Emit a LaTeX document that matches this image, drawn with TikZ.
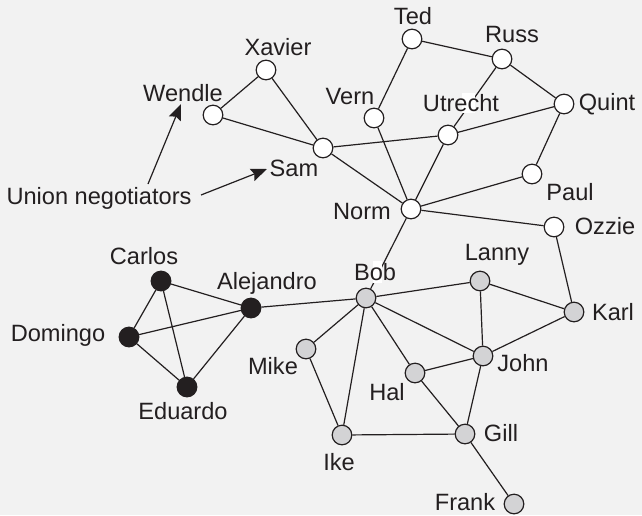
\documentclass[tikz,border=0pt]{standalone}
\usepackage{fontspec}
\setmainfont{Liberation Sans}
\usetikzlibrary{arrows.meta}
\definecolor{bg}{HTML}{F2F2F2}
\definecolor{ink}{HTML}{231F20}
\definecolor{grayfill}{HTML}{D3D3D5}
\tikzset{
  vtx/.style={circle,draw=ink,line width=0.6pt,minimum size=9.8pt,inner sep=0pt},
  wnode/.style={vtx,fill=white},
  gnode/.style={vtx,fill=grayfill},
  bnode/.style={vtx,fill=ink},
  lbl/.style={inner sep=0pt,text=ink,font=\fontsize{11.8}{14}\selectfont},
  edge/.style={draw=ink,line width=0.6pt},
  pointer/.style={draw=ink,line width=0.6pt,-{Stealth[length=8pt,width=6.5pt,inset=1.2pt]}}
}
\begin{document}
\begin{tikzpicture}[x=0.5pt,y=-0.5pt]
\fill[bg] (0,0) rectangle (642,515);
\useasboundingbox (0,0) rectangle (642,515);
% vertices
\node[wnode] (xavier) at (266,70) {};
\node[wnode] (wendle) at (213,115) {};
\node[wnode] (sam) at (323,148) {};
\node[wnode] (ted) at (412,39) {};
\node[wnode] (russ) at (502,59) {};
\node[wnode] (quint) at (564,104) {};
\node[wnode] (vern) at (374,118) {};
\node[wnode] (utrecht) at (448,135) {};
\node[wnode] (norm) at (411,209) {};
\node[wnode] (paul) at (532,174) {};
\node[wnode] (ozzie) at (554,227) {};
\node[bnode] (carlos) at (161,281) {};
\node[bnode] (alejandro) at (251,308) {};
\node[bnode] (domingo) at (129,337) {};
\node[bnode] (eduardo) at (187,387) {};
\node[gnode] (bob) at (366,298) {};
\node[gnode] (lanny) at (480,281) {};
\node[gnode] (karl) at (574,312) {};
\node[gnode] (john) at (483,356) {};
\node[gnode] (hal) at (415,373) {};
\node[gnode] (mike) at (306,349) {};
\node[gnode] (ike) at (342,435) {};
\node[gnode] (gill) at (465,434) {};
\node[gnode] (frank) at (514,504) {};
% edges
\path[edge]
  (wendle) -- (xavier)
  (wendle) -- (sam)
  (xavier) -- (sam)
  (sam) -- (utrecht)
  (utrecht) -- (quint)
  (sam) -- (norm)
  (ted) -- (vern)
  (ted) -- (russ)
  (vern) -- (norm)
  (russ) -- (utrecht)
  (russ) -- (quint)
  (utrecht) -- (norm)
  (quint) -- (paul)
  (norm) -- (paul)
  (norm) -- (ozzie)
  (norm) -- (bob)
  (ozzie) -- (karl)
  (carlos) -- (alejandro)
  (carlos) -- (domingo)
  (carlos) -- (eduardo)
  (domingo) -- (alejandro)
  (domingo) -- (eduardo)
  (eduardo) -- (alejandro)
  (alejandro) -- (bob)
  (bob) -- (lanny)
  (bob) -- (john)
  (bob) -- (hal)
  (bob) -- (ike)
  (bob) -- (mike)
  (mike) -- (ike)
  (lanny) -- (john)
  (lanny) -- (karl)
  (karl) -- (john)
  (john) -- (hal)
  (john) -- (gill)
  (hal) -- (gill)
  (ike) -- (gill)
  (gill) -- (frank);
% white patches behind labels crossed by lines
\fill[white] (462,93) rectangle (475,113);
\fill[white] (373,261) rectangle (382,283);
% labels
\node[lbl] (lxavier) at (278,47) {Xavier};
\node[lbl] (lwendle) at (183,93) {Wendle};
\node[lbl] (lsam) at (294,168) {Sam};
\node[lbl] (lted) at (413,16) {Ted};
\node[lbl] (lruss) at (512,34) {Russ};
\node[lbl] (lquint) at (607,104) {Quint};
\node[lbl] (lvern) at (350,96) {Vern};
\node[lbl] (lutrecht) at (461,103) {Utrecht};
\node[lbl] (lnorm) at (362,211) {Norm};
\node[lbl] (lpaul) at (570,192) {Paul};
\node[lbl] (lozzie) at (605,226) {Ozzie};
\node[lbl] (lcarlos) at (144,256) {Carlos};
\node[lbl] (lalejandro) at (267,283) {Alejandro};
\node[lbl] (ldomingo) at (58,335) {Domingo};
\node[lbl] (leduardo) at (183,411) {Eduardo};
\node[lbl] (lbob) at (375,272) {Bob};
\node[lbl] (llanny) at (497,255) {Lanny};
\node[lbl] (lkarl) at (613,312) {Karl};
\node[lbl] (ljohn) at (523,363) {John};
\node[lbl] (lhal) at (387,392) {Hal};
\node[lbl] (lmike) at (273,366) {Mike};
\node[lbl] (like) at (339,462) {Ike};
\node[lbl] (lgill) at (501,433) {Gill};
\node[lbl] (lfrank) at (465,502) {Frank};
\node[lbl] (union) at (99,198) {Union negotiators};
% pointers
\coordinate (u1) at (148,184);
\coordinate (u2) at (201,195);
\coordinate (w1) at (181,104);
\coordinate (s1) at (267,169);
\draw[pointer] (u1) -- (w1);
\draw[pointer] (u2) -- (s1);
\end{tikzpicture}
\end{document}
